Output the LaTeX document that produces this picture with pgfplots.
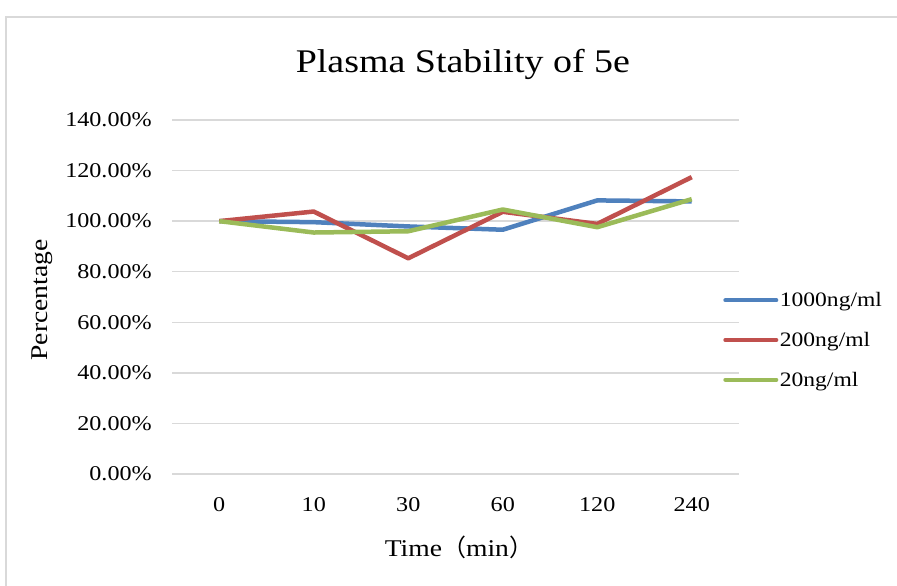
\documentclass[border=0pt]{standalone}
\usepackage{fontspec}
\setmainfont{Liberation Serif}[FakeStretch=1.15]
\newfontfamily\cjk{Noto Sans CJK SC}
\usepackage{pgfplots}
\pgfplotsset{compat=1.18}
\definecolor{cblue}{HTML}{4F81BD}
\definecolor{cred}{HTML}{C0504D}
\definecolor{cgreen}{HTML}{9BBB59}
\definecolor{cgrid}{HTML}{D9D9D9}
\begin{document}
\begin{tikzpicture}
\useasboundingbox (0,0) rectangle (897pt,586pt);
\fill[white] (0,0) rectangle (897pt,586pt);
\draw[cgrid, line width=2pt] (6pt,-10pt) -- (6pt,569pt) -- (910pt,569pt);
\begin{axis}[
  at={(172pt,112pt)}, anchor=south west,
  scale only axis, width=567pt, height=354pt,
  xmin=-0.5, xmax=5.5, ymin=0, ymax=140,
  xtick={0,1,2,3,4,5}, xticklabels={0,10,30,60,120,240},
  ytick={0,20,40,60,80,100,120,140},
  yticklabels={0.00\%,20.00\%,40.00\%,60.00\%,80.00\%,100.00\%,120.00\%,140.00\%},
  /pgf/number format/assume math mode=true,
  ymajorgrids, grid style={cgrid, line width=1.5pt},
  axis line style={draw=none}, major tick length=0pt,
  ticklabel style={font=\fontsize{21}{25}\selectfont},
  yticklabel style={anchor=east, inner sep=0pt, xshift=-20pt},
  xticklabel style={anchor=north, inner sep=0pt, yshift=-23pt},
  title={Plasma Stability of 5e},
  title style={at={(axis description cs:0.513,1.14)}, anchor=center, font=\fontsize{33}{40}\selectfont},
  xlabel={Time{\cjk （}min{\cjk ）}},
  xlabel style={at={(axis description cs:0.506,-0.206)}, anchor=center, font=\fontsize{24}{28}\selectfont},
  ylabel={Percentage},
  ylabel style={at={(axis description cs:-0.229,0.4915)}, anchor=center, font=\fontsize{24}{28}\selectfont},
  legend style={at={(axis description cs:0.972,0.3785)}, anchor=west, draw=none, fill=none,
    inner sep=0pt, row sep=21pt, font=\fontsize{20.5}{24}\selectfont,
    nodes={inner sep=1.5pt}},
  legend cell align=left,
  legend image code/.code={\draw[#1, line cap=round, line width=4pt] (0pt,0pt) -- (51pt,0pt);},
  every axis plot/.append style={line width=4.5pt, line join=round, no markers},
]
\addplot[cblue] coordinates {(0,100) (1,99.6) (2,97.9) (3,96.6) (4,108.2) (5,107.8)};
\addlegendentry{1000ng/ml}
\addplot[cred] coordinates {(0,100) (1,103.8) (2,85.3) (3,103.7) (4,98.9) (5,117.4)};
\addlegendentry{200ng/ml}
\addplot[cgreen] coordinates {(0,100) (1,95.5) (2,96.0) (3,104.6) (4,97.6) (5,108.7)};
\addlegendentry{20ng/ml}
\end{axis}
\end{tikzpicture}
\end{document}
